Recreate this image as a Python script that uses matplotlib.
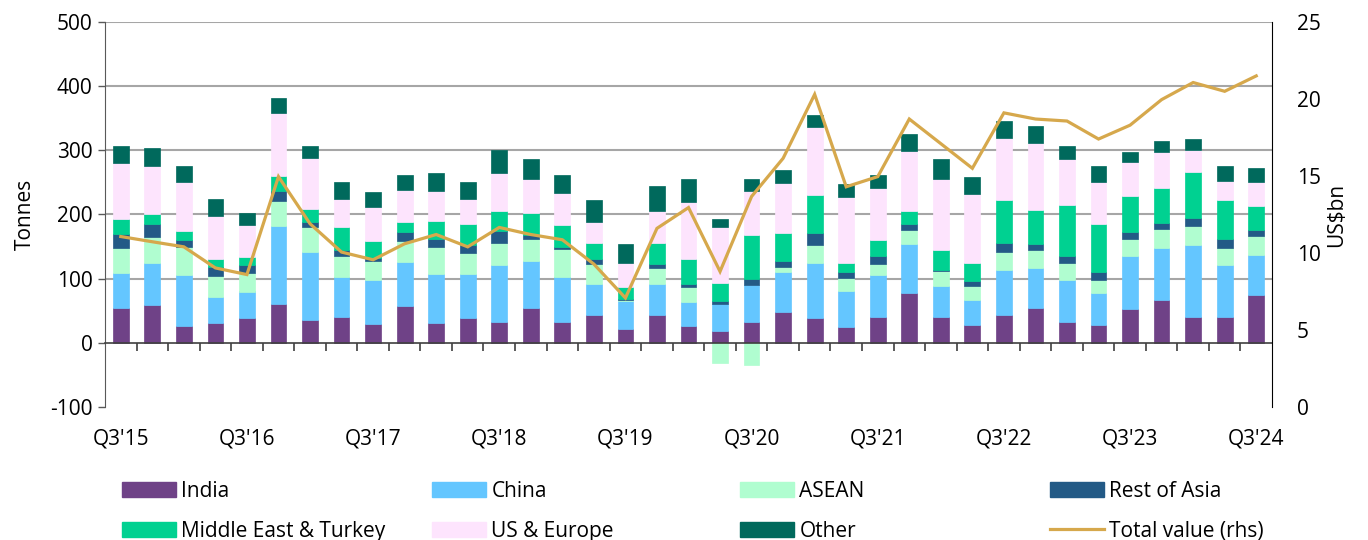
import matplotlib
matplotlib.use("Agg")
import matplotlib.pyplot as plt
import numpy as np
from matplotlib.patches import Patch
from matplotlib.lines import Line2D

plt.rcParams["font.family"] = ["Open Sans", "DejaVu Sans"]
plt.rcParams["axes.unicode_minus"] = False

quarters = ["Q3'15", "Q4'15", "Q1'16", "Q2'16", "Q3'16", "Q4'16", "Q1'17", "Q2'17",
            "Q3'17", "Q4'17", "Q1'18", "Q2'18", "Q3'18", "Q4'18", "Q1'19", "Q2'19",
            "Q3'19", "Q4'19", "Q1'20", "Q2'20", "Q3'20", "Q4'20", "Q1'21", "Q2'21",
            "Q3'21", "Q4'21", "Q1'22", "Q2'22", "Q3'22", "Q4'22", "Q1'23", "Q2'23",
            "Q3'23", "Q4'23", "Q1'24", "Q2'24", "Q3'24"]

# tonnes
india = [55, 59, 26, 31, 39, 60, 36, 40, 30, 58, 31, 38, 33, 55, 33, 43, 21, 44, 27, 18,
         32, 48, 38, 24, 41, 78, 40, 28, 44, 54, 32, 28, 53, 66, 41, 41, 75]
china = [54, 65, 80, 40, 41, 122, 105, 62, 68, 68, 77, 69, 88, 73, 70, 49, 44, 48, 37, 42,
         58, 63, 86, 57, 65, 76, 48, 38, 69, 62, 66, 50, 82, 82, 111, 80, 62]
asean = [39, 41, 43, 33, 29, 39, 40, 33, 29, 32, 42, 33, 34, 34, 43, 31, 1, 24, 23, -32,
         -34, 7, 28, 20, 17, 22, 24, 23, 28, 28, 27, 20, 27, 29, 30, 27, 30]
rest_asia = [22, 20, 12, 14, 12, 16, 8, 10, 5, 14, 12, 12, 20, 6, 4, 7, 2, 7, 4, 5,
             10, 10, 19, 9, 13, 9, 2, 8, 15, 10, 10, 13, 11, 10, 12, 14, 9]
me_turkey = [23, 16, 14, 12, 12, 23, 19, 35, 27, 16, 28, 33, 31, 35, 33, 25, 19, 33, 39, 29,
             68, 43, 59, 14, 25, 20, 30, 28, 67, 53, 80, 74, 56, 54, 73, 61, 38]
us_europe = [88, 75, 76, 68, 51, 98, 80, 44, 52, 50, 46, 39, 58, 53, 50, 34, 38, 50, 89, 86,
             69, 78, 107, 103, 81, 94, 111, 107, 97, 104, 71, 66, 53, 56, 34, 29, 37]
other = [26, 27, 24, 26, 19, 24, 19, 27, 24, 23, 28, 27, 37, 30, 28, 34, 29, 39, 37, 13,
         19, 21, 18, 21, 19, 27, 31, 27, 26, 27, 21, 25, 16, 18, 17, 24, 21]

# US$bn
total_value = [11.07, 10.73, 10.4, 9.03, 8.6, 14.96, 11.9, 10.06, 9.56, 10.6, 11.2, 10.4,
               11.66, 11.2, 10.86, 9.28, 7.08, 11.6, 12.95, 8.8, 13.67, 16.15, 20.3, 14.3,
               14.96, 18.7, 17.1, 15.5, 19.1, 18.7, 18.57, 17.4, 18.3, 19.96, 21.07, 20.5, 21.5]

series = [
    ("India", india, "#6F4287"),
    ("China", china, "#64C6FF"),
    ("ASEAN", asean, "#B0FDD0"),
    ("Rest of Asia", rest_asia, "#235A86"),
    ("Middle East & Turkey", me_turkey, "#00D191"),
    ("US & Europe", us_europe, "#FDE4FD"),
    ("Other", other, "#00695C"),
]
line_color = "#D6A84C"
fs = 15

fig = plt.figure(figsize=(13.68, 5.4), dpi=100)
ax = fig.add_axes([105 / 1368, 1 - 407 / 540, (1272 - 105) / 1368, (407 - 22) / 540])
ax2 = ax.twinx()

x = np.arange(len(quarters))
pos_bottom = np.zeros(len(x))
neg_bottom = np.zeros(len(x))
for name, vals, col in series:
    v = np.array(vals, dtype=float)
    bottom = np.where(v >= 0, pos_bottom, neg_bottom)
    ax.bar(x, v, bottom=bottom, width=0.5, color=col, edgecolor=col, linewidth=0.5, zorder=3)
    pos_bottom += np.where(v >= 0, v, 0)
    neg_bottom += np.where(v < 0, v, 0)

ax2.plot(x, total_value, color=line_color, lw=2.3, zorder=4, solid_joinstyle="miter")

ax.set_xlim(-0.5, len(x) - 0.5)
ax.set_ylim(-100, 500)
ax.set_yticks(range(-100, 501, 100))
ax2.set_ylim(0, 25)
ax2.set_yticks(range(0, 26, 5))

for yv in range(100, 501, 100):
    ax.axhline(yv, color="#A6A6A6", lw=1.5, zorder=1)

# x axis sits at zero
ax.spines["bottom"].set_position(("data", 0))
ax.spines["bottom"].set_color("#404040")
ax.spines["bottom"].set_linewidth(1.2)
ax.spines["bottom"].set_zorder(5)
ax.spines["top"].set_visible(False)
ax.spines["right"].set_visible(False)
ax.spines["left"].set_color("#595959")
ax2.spines["top"].set_visible(False)
ax2.spines["left"].set_visible(False)
ax2.spines["bottom"].set_visible(False)
ax2.spines["right"].set_color("#000000")

ax.set_xticks(x[::4])
ax.set_xticklabels(quarters[::4])
ax.set_xticks(x[:-1] + 0.5, minor=True)
ax.tick_params(axis="x", which="major", length=0, pad=62, labelsize=fs, colors="#000000")
ax.tick_params(axis="x", which="minor", length=6, width=1.2, color="#404040", direction="out")
ax.tick_params(axis="y", length=5, width=1, color="#595959", labelsize=fs, pad=4)
ax2.tick_params(axis="y", length=0, labelsize=fs, pad=18)

ax.set_ylabel("Tonnes", fontsize=fs, labelpad=10)
ax2.set_ylabel("US$bn", fontsize=fs, labelpad=4)

# legend laid out in four fixed columns, two rows
handles = {name: Patch(facecolor=col, edgecolor=col) for name, _, col in series}
handles["Total value (rhs)"] = Line2D([0], [0], color=line_color, lw=2.3)
columns = [("India", "Middle East & Turkey"), ("China", "US & Europe"),
           ("ASEAN", "Other"), ("Rest of Asia", "Total value (rhs)")]
col_x = [122, 432, 740, 1050]
for cx, names in zip(col_x, columns):
    leg = fig.legend([handles[n] for n in names], list(names), loc="upper left",
                     bbox_to_anchor=(cx / 1368, 1 - 481 / 540), frameon=False,
                     fontsize=fs, handlelength=2.6, handleheight=0.72,
                     handletextpad=0.25, labelspacing=0.9, borderpad=0, borderaxespad=0)

fig.savefig("out.png", dpi=100)
